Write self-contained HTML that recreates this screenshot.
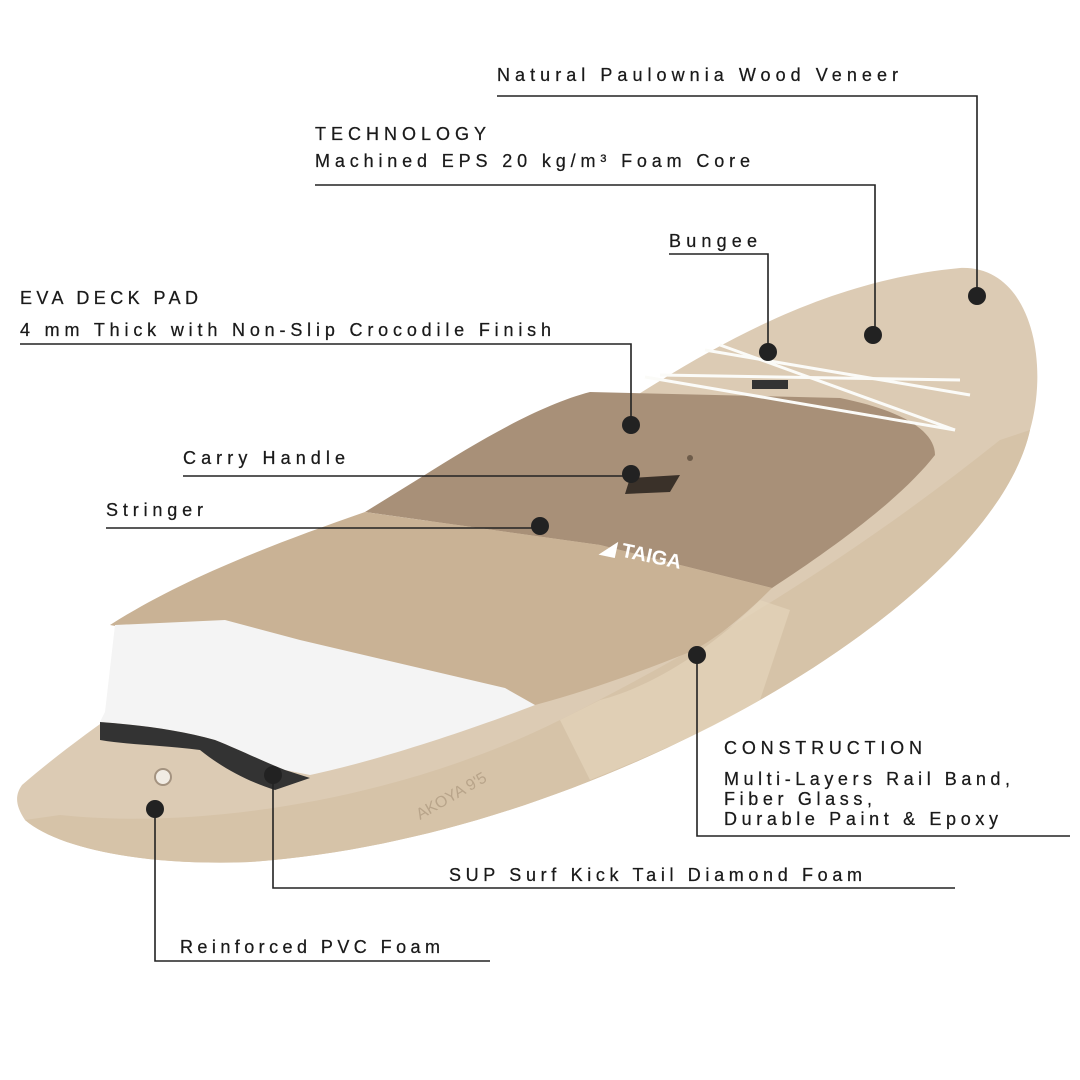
<!DOCTYPE html>
<html><head><meta charset="utf-8"><style>
html,body{margin:0;padding:0;background:#fff;}
svg{display:block;}
text{font-family:"Liberation Sans",sans-serif;font-size:18px;fill:#1a1a1a;stroke:#1a1a1a;stroke-width:0.25;}
</style></head><body>
<svg width="1080" height="1080" viewBox="0 0 1080 1080">
<!-- board body -->
<path d="M22,785 C120,700 300,590 520,470 C650,390 780,285 960,268 C1030,265 1050,360 1030,430 C1010,520 900,620 760,700 C600,790 420,850 250,862 C150,866 60,850 25,820 C15,805 15,795 22,785 Z" fill="#dccbb4"/>
<!-- rail band -->
<path d="M1030,430 C1010,520 900,620 760,700 C600,790 420,850 250,862 C150,866 60,850 25,820 L60,815 C200,830 400,800 560,720 C700,650 850,560 1000,440 Z" fill="#d6c3a8"/>
<path d="M560,720 L600,700 C640,690 700,660 760,600 L790,610 L760,700 C700,735 640,760 590,780 Z" fill="#e4d4bb" opacity="0.7"/>
<!-- dark deck pad -->
<path d="M420,478 C480,440 540,405 590,392 L840,398 C900,410 935,430 935,455 C900,500 830,550 772,588 L600,545 L365,512 Z" fill="#a89078"/>
<!-- lighter pad -->
<path d="M365,512 L600,545 L772,588 C745,615 715,640 690,652 C640,672 590,690 535,705 L110,625 C180,580 270,545 365,512 Z" fill="#c9b295"/>
<!-- white tail pad -->
<path d="M115,625 L225,620 L300,640 L505,688 L535,705 C470,730 380,760 310,775 L285,770 C260,760 240,750 215,740 C180,730 140,725 100,722 L105,712 Z" fill="#f4f4f4"/>
<!-- black kick -->
<path d="M100,722 C140,725 180,730 215,740 C240,750 260,760 285,770 L310,778 L275,790 C250,782 225,770 200,750 C160,745 130,745 100,740 Z" fill="#333"/>
<!-- bungee -->
<g stroke="#fbfbf8" stroke-width="3" fill="none">
<path d="M705,350 L970,395"/><path d="M645,377 L955,430"/>
<path d="M720,345 L955,430"/><path d="M660,375 L960,380"/>
</g>
<rect x="752" y="380" width="36" height="9" fill="#333"/>
<!-- handle -->
<path d="M630,478 L680,475 L670,492 L625,494 Z" fill="#3a3129"/>
<circle cx="690" cy="458" r="3" fill="#6e5c4a"/>
<circle cx="163" cy="777" r="8" fill="#f1ece4" stroke="#a49380" stroke-width="2"/>
<text x="600" y="552" transform="rotate(12 600 552)" style="font-size:20px;font-weight:bold;fill:#fff;stroke:none;">◢ TAIGA</text>
<text x="420" y="820" transform="rotate(-30 420 820)" style="font-size:16px;fill:#b8a48a;stroke:none;">AKOYA 9'5</text>

<!-- connectors -->
<g stroke="#222" stroke-width="1.6" fill="none">
<polyline points="497,96 977,96 977,296"/>
<polyline points="315,185 875,185 875,335"/>
<polyline points="669,254 768,254 768,352"/>
<polyline points="20,344 631,344 631,425"/>
<polyline points="183,476 631,476"/>
<polyline points="106,528 540,528"/>
<polyline points="697,655 697,836 1070,836"/>
<polyline points="273,775 273,888 955,888"/>
<polyline points="155,809 155,961 490,961"/>
</g>
<g fill="#222">
<circle cx="977" cy="296" r="9"/><circle cx="873" cy="335" r="9"/><circle cx="768" cy="352" r="9"/>
<circle cx="631" cy="425" r="9"/><circle cx="631" cy="474" r="9"/><circle cx="540" cy="526" r="9"/>
<circle cx="697" cy="655" r="9"/><circle cx="273" cy="775" r="9"/><circle cx="155" cy="809" r="9"/>
</g>

<text x="497" y="81" textLength="401" lengthAdjust="spacing">Natural Paulownia Wood Veneer</text>
<text x="315" y="140" textLength="171" lengthAdjust="spacing">TECHNOLOGY</text>
<text x="315" y="167" textLength="435" lengthAdjust="spacing">Machined EPS 20 kg/m³ Foam Core</text>
<text x="669" y="247" textLength="88" lengthAdjust="spacing">Bungee</text>
<text x="20" y="304" textLength="178" lengthAdjust="spacing">EVA DECK PAD</text>
<text x="20" y="336" textLength="531" lengthAdjust="spacing">4 mm Thick with Non-Slip Crocodile Finish</text>
<text x="183" y="464" textLength="162" lengthAdjust="spacing">Carry Handle</text>
<text x="106" y="516" textLength="97" lengthAdjust="spacing">Stringer</text>
<text x="724" y="754" textLength="198" lengthAdjust="spacing">CONSTRUCTION</text>
<text x="724" y="785" textLength="286" lengthAdjust="spacing">Multi-Layers Rail Band,</text>
<text x="724" y="805" textLength="148" lengthAdjust="spacing">Fiber Glass,</text>
<text x="724" y="825" textLength="274" lengthAdjust="spacing">Durable Paint &amp; Epoxy</text>
<text x="449" y="881" textLength="413" lengthAdjust="spacing">SUP Surf Kick Tail Diamond Foam</text>
<text x="180" y="953" textLength="260" lengthAdjust="spacing">Reinforced PVC Foam</text>
</svg>
</body></html>
